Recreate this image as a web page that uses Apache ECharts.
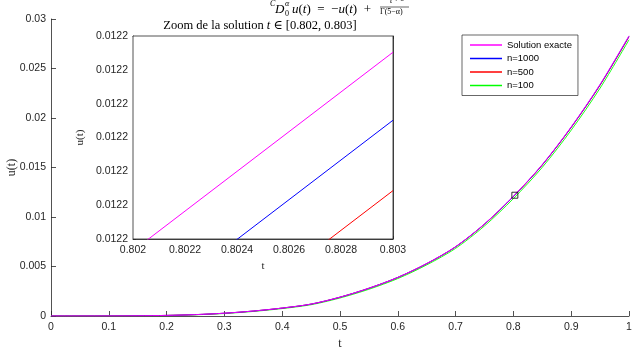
<!DOCTYPE html>
<html>
<head>
<meta charset="utf-8">
<script src="https://cdn.jsdelivr.net/npm/echarts@6/dist/echarts.min.js"></script>
<style>html,body{margin:0;padding:0;background:#fff}#c{width:635px;height:358px}</style>
</head>
<body>
<div id="c"></div>
<script>
// ---- data ----
const tMain = [0, 0.05, 0.1, 0.15, 0.2, 0.25, 0.3, 0.35, 0.4, 0.45, 0.5, 0.55, 0.6, 0.65, 0.7, 0.75, 0.8, 0.85, 0.9, 0.95, 1.0];
const uExact = [0, 0.0000002, 0.000004, 0.00002, 0.00006, 0.00014, 0.00028, 0.0005, 0.0008, 0.0012, 0.0019, 0.0028, 0.0039, 0.0053, 0.0070, 0.0093, 0.0121, 0.0153, 0.0191, 0.0234, 0.0283];
const uN1000 = [0, 0.0000002, 0.000004, 0.00002, 0.00006, 0.00014, 0.00028, 0.0005, 0.0008, 0.0012, 0.0019, 0.0028, 0.0039, 0.00529, 0.00699, 0.00929, 0.01208, 0.01527, 0.01907, 0.02336, 0.02825];
const uN500 = [0, 0.0000002, 0.000004, 0.00002, 0.00006, 0.00014, 0.00028, 0.0005, 0.0008, 0.0012, 0.0019, 0.0028, 0.00389, 0.00528, 0.00698, 0.00927, 0.01206, 0.01525, 0.01904, 0.02332, 0.0282];
const uN100 = [0, 0.0000002, 0.000004, 0.00002, 0.00005, 0.00012, 0.00025, 0.00046, 0.00075, 0.00114, 0.00182, 0.00270, 0.00378, 0.00516, 0.00683, 0.00910, 0.01186, 0.01502, 0.01877, 0.02302, 0.0279];
const zoomBox = [0.8025, 0.0122];

const tZoom = [0.802, 0.803];
const zExact = [0.0121765, 0.0122352];
const zN1000 = [0.0121564, 0.0122151];
const zN500 = [0.0121356, 0.0121943];

const names = ['Solution exacte', 'n=1000', 'n=500', 'n=100'];
const colors = ['#ff00ff', '#0000ff', '#ff0000', '#00ff00'];

// ---- chart ----
const pair = (xs, ys) => xs.map((x, i) => [x, ys[i]]);
const AX = '#262626';
const SANS = '"Liberation Sans", Arial, sans-serif';
const SERIF = '"Liberation Serif", "DejaVu Serif", serif';

const chart = echarts.init(document.getElementById('c'), null, {renderer: 'canvas'});

const mainZ = [5, 4, 3, 2];
const mainSeries = [uExact, uN1000, uN500, uN100].map((arr, i) => ({
  name: names[i], type: 'line', xAxisIndex: 0, yAxisIndex: 0,
  data: pair(tMain, arr), showSymbol: false, smooth: 0.3,
  lineStyle: {color: colors[i], width: 0.9}, itemStyle: {color: colors[i]},
  animation: false, z: mainZ[i]
}));
const zoomSeries = [zExact, zN1000, zN500].map((arr, i) => ({
  name: names[i], type: 'line', xAxisIndex: 1, yAxisIndex: 1,
  data: pair(tZoom, arr), showSymbol: false, clip: true,
  lineStyle: {color: colors[i], width: 1}, itemStyle: {color: colors[i]},
  animation: false, z: 6
}));

const option = {
  backgroundColor: '#fff',
  animation: false,
  grid: [
    {left: 51, right: 6, top: 19, bottom: 42, containLabel: false, outerBoundsMode: 'none'},
    {left: 133, top: 36, width: 260, height: 203, show: true, backgroundColor: '#fff',
     borderColor: AX, borderWidth: 0.8, z: 4, containLabel: false, outerBoundsMode: 'none'}
  ],
  legend: {
    data: names, orient: 'vertical', left: 462, top: 35,
    icon: 'rect', itemWidth: 32, itemHeight: 1.5, itemGap: 3.5,
    padding: [5, 6, 5, 8],
    backgroundColor: '#fff', borderColor: AX, borderWidth: 0.7,
    textStyle: {fontFamily: SANS, fontSize: 9.5, color: '#000'},
    selectedMode: false
  },
  xAxis: [
    {gridIndex: 0, type: 'value', min: 0, max: 1, interval: 0.1,
     axisLine: {lineStyle: {color: AX, width: 0.8}},
     axisTick: {inside: true, length: 5, lineStyle: {color: AX, width: 0.8}},
     axisLabel: {color: AX, fontFamily: SANS, fontSize: 10.5, margin: 6},
     splitLine: {show: false},
     name: 't', nameLocation: 'middle', nameGap: 22,
     nameTextStyle: {fontFamily: SERIF, fontSize: 12, color: AX}},
    {gridIndex: 1, type: 'value', min: 0.802, max: 0.803, interval: 0.0002,
     axisLine: {lineStyle: {color: AX, width: 0.8}},
     axisTick: {inside: true, length: 3, lineStyle: {color: AX, width: 0.8}},
     axisLabel: {color: AX, fontFamily: SANS, fontSize: 10.5, margin: 6},
     splitLine: {show: true, lineStyle: {color: '#e3e3e3', width: 0.8}},
     name: 't', nameLocation: 'middle', nameGap: 22,
     nameTextStyle: {fontFamily: SERIF, fontSize: 11, color: AX}},
    {gridIndex: 1, type: 'value', min: 0.802, max: 0.803, interval: 0.0002, position: 'top',
     axisLine: {lineStyle: {color: AX, width: 0.8}},
     axisTick: {inside: true, length: 3, lineStyle: {color: AX, width: 0.8}},
     axisLabel: {show: false}, splitLine: {show: false}}
  ],
  yAxis: [
    {gridIndex: 0, type: 'value', min: 0, max: 0.03, interval: 0.005,
     axisLine: {show: true, lineStyle: {color: AX, width: 0.8}},
     axisTick: {show: true, inside: true, length: 5, lineStyle: {color: AX, width: 0.8}},
     axisLabel: {color: AX, fontFamily: SANS, fontSize: 10.5, margin: 5},
     splitLine: {show: false},
     name: 'u(t)', nameLocation: 'middle', nameGap: 33, nameMoveOverlap: false,
     nameTextStyle: {fontFamily: SERIF, fontSize: 12, color: AX}},
    {gridIndex: 1, type: 'value', min: 0.01218, max: 0.01224, interval: 0.00001,
     axisLine: {show: true, lineStyle: {color: AX, width: 0.8}},
     axisTick: {show: true, inside: true, length: 3, lineStyle: {color: AX, width: 0.8}},
     axisLabel: {color: AX, fontFamily: SANS, fontSize: 10.5, margin: 5,
                 formatter: v => v.toFixed(4)},
     splitLine: {show: true, lineStyle: {color: '#e3e3e3', width: 0.8}},
     name: 'u(t)', nameLocation: 'middle', nameGap: 47, nameMoveOverlap: false,
     nameTextStyle: {fontFamily: SERIF, fontSize: 11, color: AX}},
    {gridIndex: 1, type: 'value', min: 0.01218, max: 0.01224, interval: 0.00001, position: 'right',
     axisLine: {show: true, lineStyle: {color: AX, width: 0.8}},
     axisTick: {show: true, inside: true, length: 3, lineStyle: {color: AX, width: 0.8}},
     axisLabel: {show: false}, splitLine: {show: false}}
  ],
  series: mainSeries.concat([{
    type: 'scatter', xAxisIndex: 0, yAxisIndex: 0, data: [zoomBox],
    symbol: 'rect', symbolSize: 6, z: 10,
    itemStyle: {color: 'rgba(255,255,255,0)', borderColor: '#000', borderWidth: 1}
  }]).concat(zoomSeries),
  graphic: [
    {type: 'text', x: 270, y: 0, z: 20, style: {text: 'C', font: 'italic 8px ' + SERIF, fill: '#000'}},
    {type: 'text', x: 275, y: 3, z: 20, style: {text: 'D', font: 'italic 13px ' + SERIF, fill: '#000'}},
    {type: 'text', x: 285, y: 0, z: 20, style: {text: 'α', font: 'italic 8px ' + SERIF, fill: '#000'}},
    {type: 'text', x: 285, y: 10, z: 20, style: {text: '0', font: '8px ' + SERIF, fill: '#000'}},
    {type: 'text', x: 292, y: 3, z: 20, style: {
      text: '{i|u}({i|t})\u2002=\u2002−{i|u}({i|t})\u2002+',
      font: '13px ' + SERIF, fill: '#000',
      rich: {i: {fontStyle: 'italic', fontFamily: SERIF, fontSize: 13}}}},
    {type: 'text', x: 390, y: -3, z: 20, style: {text: 't', font: 'italic 8px ' + SERIF, fill: '#000'}},
    {type: 'text', x: 394, y: -4, z: 20, style: {text: '4−α', font: '6px ' + SERIF, fill: '#000'}},
    {type: 'line', z: 20, shape: {x1: 380, y1: 7, x2: 409, y2: 7}, style: {stroke: '#000', lineWidth: 0.6}},
    {type: 'text', x: 380, y: 8, z: 20, style: {text: 'Γ(5−α)', font: '8px ' + SERIF, fill: '#000'}},
    {type: 'text', x: 260, y: 26, z: 20, style: {
      text: 'Zoom de la solution {i|t} ∈ [0.802, 0.803]',
      font: '12.5px ' + SERIF, fill: '#000', align: 'center', verticalAlign: 'middle',
      rich: {i: {fontStyle: 'italic', fontFamily: SERIF, fontSize: 12.5}}}}
  ]
};
chart.setOption(option);
</script>
</body>
</html>
